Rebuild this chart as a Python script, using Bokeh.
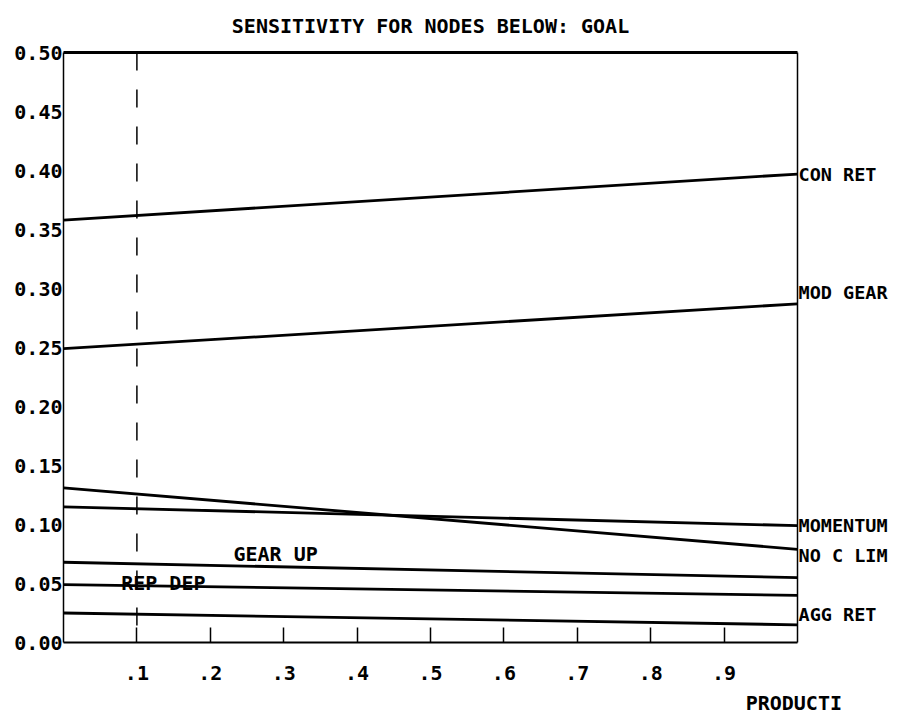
from bokeh.plotting import figure
from bokeh.models import Range1d, LinearAxis, FixedTicker, Label
from bokeh.embed import file_html
from bokeh.resources import INLINE

# ---- data ----
x_ends = [0.0, 1.0]
con_ret = [0.358, 0.397]
mod_gear = [0.249, 0.287]
momentum = [0.115, 0.099]
no_c_lim = [0.131, 0.079]
gear_up = [0.068, 0.055]
rep_dep = [0.049, 0.040]
agg_ret = [0.025, 0.015]
cursor_x = 0.1

right_names = ["CON RET", "MOD GEAR", "MOMENTUM", "NO C LIM", "AGG RET"]
right_series = [con_ret, mod_gear, momentum, no_c_lim, agg_ret]
inline_names = ["GEAR UP", "REP DEP"]
inline_series = [gear_up, rep_dep]
inline_x = [0.289, 0.136]

y_ticks = [0.0, 0.05, 0.10, 0.15, 0.20, 0.25, 0.30, 0.35, 0.40, 0.45, 0.50]
y_tick_labels = ["0.00", "0.05", "0.10", "0.15", "0.20", "0.25", "0.30", "0.35", "0.40", "0.45", "0.50"]
x_ticks = [0.1, 0.2, 0.3, 0.4, 0.5, 0.6, 0.7, 0.8, 0.9]
x_tick_labels = [".1", ".2", ".3", ".4", ".5", ".6", ".7", ".8", ".9"]
title_text = "SENSITIVITY FOR NODES BELOW: GOAL"
x_axis_name = "PRODUCTI"
x_axis_name_at = 0.995

# ---- styling ----
FONT = "DejaVu Sans Mono"
FS = "20px"
FRAME_H = 590
right_dy_px = [0, 11, 0, -6, 10]
inline_dy = [13, 3]

W, H = 890, 718
ML, MR, MT = 63, 93, 52
MB = H - MT - FRAME_H

p = figure(width=W, height=H, x_range=Range1d(0, 1), y_range=Range1d(0, 0.5),
           output_backend="svg", toolbar_location=None,
           min_border_left=ML, min_border_right=MR, min_border_top=MT, min_border_bottom=MB)
p.background_fill_color = "white"
p.border_fill_color = "white"
p.outline_line_color = None
p.xgrid.visible = False
p.ygrid.visible = False

p.title.text = title_text
p.title.align = "center"
p.title.vertical_align = "top"
p.title.offset = 8
p.title.text_font = FONT
p.title.text_font_size = FS
p.title.text_font_style = "bold"
p.title.text_color = "black"
p.title.standoff = 25


def style_labels(ax, size=FS):
    ax.major_label_text_font = FONT
    ax.major_label_text_font_size = size
    ax.major_label_text_font_style = "bold"
    ax.major_label_text_color = "black"
    ax.minor_tick_in = 0
    ax.minor_tick_out = 0


# left axis
ya = p.yaxis[0]
ya.ticker = FixedTicker(ticks=y_ticks)
ya.major_label_overrides = {t: l for t, l in zip(y_ticks, y_tick_labels)}
ya.major_tick_in = 0
ya.major_tick_out = 0
ya.major_label_standoff = 1
ya.axis_line_width = 1.5
ya.axis_line_color = "black"
style_labels(ya)

# bottom axis
xa = p.xaxis[0]
xa.ticker = FixedTicker(ticks=x_ticks)
xa.major_label_overrides = {t: l for t, l in zip(x_ticks, x_tick_labels)}
xa.major_tick_in = 15
xa.major_tick_out = 0
xa.major_tick_line_width = 1.5
xa.major_tick_line_color = "black"
xa.major_label_standoff = 23
xa.axis_line_width = 2
xa.axis_line_color = "black"
style_labels(xa)

# second bottom axis carrying the axis name at the lower right
xname = LinearAxis(ticker=FixedTicker(ticks=[x_axis_name_at]),
                   major_label_overrides={x_axis_name_at: x_axis_name},
                   axis_line_color=None, major_tick_in=0, major_tick_out=0,
                   major_label_standoff=8)
style_labels(xname)
p.add_layout(xname, "below")

# thick top border
top = LinearAxis(ticker=FixedTicker(ticks=[]), axis_line_width=3, axis_line_color="black",
                 major_tick_in=0, major_tick_out=0, major_label_text_font_size="0px")
style_labels(top, "0px")
p.add_layout(top, "above")

# right border with series names at the line ends
px_per_unit = FRAME_H / (y_ticks[-1] - y_ticks[0])
right_pos = [s[-1] + d / px_per_unit for s, d in zip(right_series, right_dy_px)]
right = LinearAxis(ticker=FixedTicker(ticks=right_pos),
                   major_label_overrides={t: n for t, n in zip(right_pos, right_names)},
                   axis_line_width=1.5, axis_line_color="black",
                   major_tick_in=0, major_tick_out=0, major_label_standoff=1)
style_labels(right, "18.5px")
p.add_layout(right, "right")

# cursor (dashed vertical)
p.line([cursor_x, cursor_x], [y_ticks[-1], y_ticks[0]], line_color="black",
       line_width=1.5, line_dash="18 19")

# series lines
for s in right_series + inline_series:
    p.line(x_ends, s, line_color="black", line_width=2.8)

# inline labels
for name, s, lx, dy in zip(inline_names, inline_series, inline_x, inline_dy):
    ly = s[0] + (s[1] - s[0]) * (lx - x_ends[0]) / (x_ends[1] - x_ends[0])
    p.add_layout(Label(x=lx, y=ly, y_offset=dy, text=name, text_align="center",
                       text_baseline="middle", text_font=FONT, text_font_size=FS,
                       text_font_style="bold", text_color="black"))

open("out.html", "w").write(file_html(p, INLINE))
